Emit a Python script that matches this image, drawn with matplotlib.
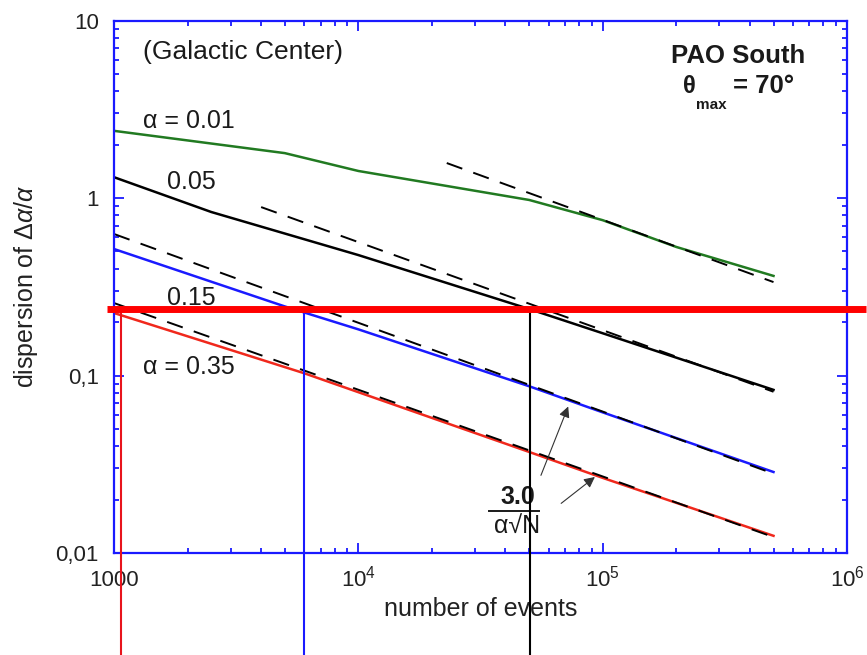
import matplotlib.pyplot as plt
from matplotlib.ticker import FixedLocator, FixedFormatter, LogLocator, NullFormatter

plt.rcParams['font.family'] = ['Liberation Sans', 'DejaVu Sans']
plt.rcParams['mathtext.fontset'] = 'custom'
plt.rcParams['mathtext.rm'] = 'Liberation Sans'
plt.rcParams['mathtext.it'] = 'Liberation Sans:italic'
plt.rcParams['mathtext.bf'] = 'Liberation Sans:bold'

# simulated dispersion of delta-alpha/alpha vs number of events
n_01 = [1000, 5000, 10000, 50000, 100000, 200000, 500000]
disp_01 = [2.39, 1.79, 1.42, 0.975, 0.75, 0.53, 0.364]

n_05 = [1000, 2500, 10000, 50000, 100000, 500000]
disp_05 = [1.31, 0.834, 0.477, 0.237, 0.173, 0.083]

n_15 = [1000, 5000, 10000, 50000, 100000, 500000]
disp_15 = [0.516, 0.245, 0.182, 0.087, 0.062, 0.0286]

n_35 = [1000, 6000, 50000, 100000, 500000]
disp_35 = [0.225, 0.103, 0.0371, 0.0265, 0.0125]

# 3.0 / (alpha sqrt(N)) reference lines: start and end points
ref_n = [[23000, 500000], [4000, 500000], [1000, 500000], [1000, 500000]]
ref_disp = [[1.574, 0.336], [0.889, 0.081], [0.627, 0.028], [0.256, 0.0123]]

# required precision and the event counts where each curve reaches it
target = 0.237
cut_n = [1070, 6000, 50500]
cut_colors = ['#e8141c', '#1a1aff', 'black']

x_ticks = [1e3, 1e4, 1e5, 1e6]
x_labels = ['1000', '$10^4$', '$10^5$', '$10^6$']
y_ticks = [0.01, 0.1, 1, 10]
y_labels = ['0,01', '0,1', '1', '10']

fig = plt.figure(figsize=(8.67, 6.55), dpi=100)
ax = fig.add_axes([0.1315, 0.1557, 0.8455, 0.813])

ax.plot(n_01, disp_01, color='#217a21', lw=1.8)
ax.plot(n_05, disp_05, color='black', lw=1.8)
ax.plot(n_15, disp_15, color='#1a1aff', lw=1.8)
ax.plot(n_35, disp_35, color='#f0281c', lw=1.8)
for rn, rd in zip(ref_n, ref_disp):
    ax.plot(rn, rd, color='black', lw=1.4, ls=(0, (8.5, 6)))

ax.set_xscale('log')
ax.set_yscale('log')
ax.set_xlim(1e3, 1e6)
ax.set_ylim(0.01, 10)

ax.xaxis.set_major_locator(FixedLocator(x_ticks))
ax.xaxis.set_major_formatter(FixedFormatter(x_labels))
ax.yaxis.set_major_locator(FixedLocator(y_ticks))
ax.yaxis.set_major_formatter(FixedFormatter(y_labels))
for axis in (ax.xaxis, ax.yaxis):
    axis.set_minor_locator(LogLocator(base=10, subs=range(2, 10)))
    axis.set_minor_formatter(NullFormatter())

blue = '#1a1aff'
for sp in ax.spines.values():
    sp.set_color(blue)
    sp.set_linewidth(1.6)
ax.tick_params(which='both', direction='in', top=True, right=True,
               color=blue, width=1.3)
ax.tick_params(which='major', length=7)
ax.tick_params(which='minor', length=3.5)
ax.tick_params(axis='x', which='major', labelsize=16, pad=24, labelcolor='#222222')
ax.tick_params(axis='y', which='major', labelsize=16, pad=11, labelcolor='#222222')
plt.setp(ax.get_xticklabels(), va='baseline')

ax.set_xlabel('number of events', fontsize=18, color='#222222', labelpad=4)
ax.set_ylabel(r'dispersion of $\Delta\alpha/\alpha$', fontsize=18,
              color='#222222', labelpad=11)

# annotations
txt = dict(transform=ax.transAxes, color='#1a1a1a', va='center')
ax.text(0.040, 0.940, '(Galactic Center)', fontsize=19, **txt)
ax.text(0.851, 0.934, 'PAO South', fontsize=18.5, fontweight='bold', ha='center', **txt)
ax.text(0.776, 0.877, 'θ', fontsize=17, fontweight='bold', **txt)
ax.text(0.794, 0.842, 'max', fontsize=11, fontweight='bold', **txt)
ax.text(0.845, 0.877, '= 70°', fontsize=18.5, fontweight='bold', **txt)
ax.text(0.040, 0.811, 'α = 0.01', fontsize=18, **txt)
ax.text(0.072, 0.697, '0.05', fontsize=18, **txt)
ax.text(0.072, 0.479, '0.15', fontsize=18, **txt)
ax.text(0.040, 0.349, 'α = 0.35', fontsize=18, **txt)

ax.text(0.551, 0.105, '3.0', fontsize=18, fontweight='bold', ha='center', **txt)
ax.plot([0.512, 0.580], [0.079, 0.079], color='#1a1a1a', lw=1.4,
        transform=ax.transAxes)
ax.text(0.550, 0.050, 'α√N', fontsize=18, ha='center', **txt)

arrow = dict(arrowstyle='-|>', color='#333333', lw=0.8, mutation_scale=16)
ax.annotate('', xy=(0.621, 0.280), xytext=(0.581, 0.141),
            xycoords='axes fraction', arrowprops=arrow)
ax.annotate('', xy=(0.659, 0.146), xytext=(0.607, 0.090),
            xycoords='axes fraction', arrowprops=arrow)

# event counts needed for the target precision
bottom = 0.00266
for n, c in zip(cut_n, cut_colors):
    ax.plot([n, n], [target, bottom], color=c, lw=1.5, clip_on=False, zorder=5)
ax.plot([937, 1.2e6], [target, target], color='#ff0000', lw=5, clip_on=False,
        solid_capstyle='butt', zorder=6)

fig.savefig('out.png', dpi=100)
